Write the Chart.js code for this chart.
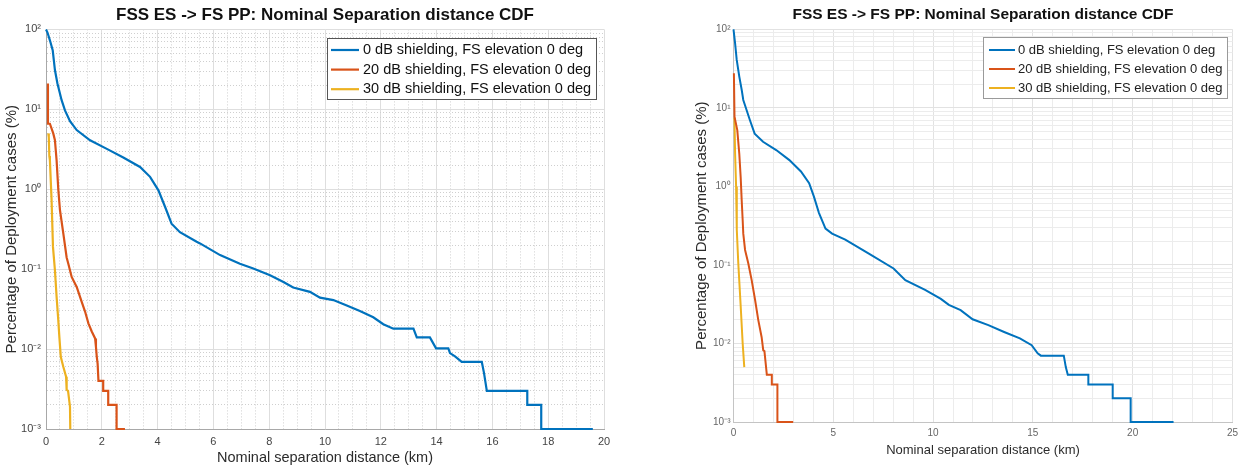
<!DOCTYPE html>
<html>
<head>
<meta charset="utf-8">
<script src="https://cdn.jsdelivr.net/npm/chart.js@4.4.1/dist/chart.umd.min.js"></script>
<style>
  body { margin: 0; background: #fff; }
  .panel { position: absolute; top: 0; height: 470px; }
  #left { left: 0; width: 620px; }
  #right { left: 620px; width: 623px; }
</style>
</head>
<body>
<div class="panel" id="left"><canvas id="leftChart" width="620" height="470"></canvas></div>
<div class="panel" id="right"><canvas id="rightChart" width="623" height="470"></canvas></div>
<script>
const chartTitle = 'FSS ES -> FS PP: Nominal Separation distance CDF';
const xTitle = 'Nominal separation distance (km)';
const yTitle = 'Percentage of Deployment cases (%)';
const seriesLabels = [
  '0 dB shielding, FS elevation 0 deg',
  '20 dB shielding, FS elevation 0 deg',
  '30 dB shielding, FS elevation 0 deg'
];
const seriesColors = ['#0072BD', '#D95319', '#EDB120'];

const yDecades = [0.001, 0.01, 0.1, 1, 10, 100];
const yDecadeLabels = ['10\u207B\u00B3', '10\u207B\u00B2', '10\u207B\u00B9', '10\u2070', '10\u00B9', '10\u00B2'];
const leftXTicks = [0, 2, 4, 6, 8, 10, 12, 14, 16, 18, 20];
const rightXTicks = [0, 5, 10, 15, 20, 25];

// left panel
const leftKm0 = [0, 0.05, 0.14, 0.24, 0.32, 0.41, 0.56, 0.68, 0.86, 1.10, 1.58, 2.18, 2.77, 3.37, 3.73, 4.03, 4.27, 4.50, 4.80, 5.40, 5.52, 6.24, 6.95, 7.43, 8.03, 8.51, 8.86, 9.46, 9.82, 10.30, 10.78, 11.25, 11.73, 12.09, 12.45, 13.17, 13.29, 13.76, 13.98, 14.42, 14.48, 14.66, 14.90, 15.62, 15.70, 15.80, 17.25, 17.25, 17.75, 17.75, 19.60];
const leftPct0 = [100, 92, 73, 55, 31, 21, 13, 9.7, 7.1, 5.5, 4.1, 3.2, 2.5, 1.9, 1.43, 0.97, 0.6, 0.37, 0.29, 0.22, 0.21, 0.15, 0.117, 0.102, 0.084, 0.069, 0.059, 0.052, 0.044, 0.041, 0.035, 0.030, 0.025, 0.0205, 0.018, 0.018, 0.014, 0.014, 0.0102, 0.0102, 0.0089, 0.0081, 0.0069, 0.0069, 0.005, 0.003, 0.003, 0.002, 0.002, 0.001, 0.001];
const leftKm20 = [0.07, 0.07, 0.14, 0.26, 0.32, 0.38, 0.44, 0.50, 0.62, 0.74, 0.80, 0.92, 1.10, 1.28, 1.40, 1.52, 1.64, 1.76, 1.79, 1.82, 1.85, 1.88, 2.05, 2.05, 2.23, 2.23, 2.53, 2.53, 2.83];
const leftPct20 = [21, 6.6, 6.6, 5.0, 4.1, 2.3, 1.0, 0.55, 0.28, 0.14, 0.117, 0.08, 0.06, 0.039, 0.0295, 0.021, 0.0166, 0.0136, 0.0107, 0.008, 0.0066, 0.004, 0.004, 0.003, 0.003, 0.002, 0.002, 0.001, 0.001];
const leftKm30 = [0.08, 0.10, 0.12, 0.14, 0.20, 0.25, 0.32, 0.38, 0.44, 0.48, 0.53, 0.62, 0.72, 0.74, 0.79, 0.86, 0.87];
const leftPct30 = [5.0, 4.5, 2.6, 2.3, 0.73, 0.19, 0.097, 0.045, 0.023, 0.014, 0.008, 0.006, 0.0045, 0.0031, 0.003, 0.0019, 0.001];

// right panel
const rightKm0 = [0, 0.08, 0.16, 0.29, 0.41, 0.49, 0.82, 1.06, 1.48, 2.14, 2.80, 3.38, 3.79, 4.03, 4.28, 4.61, 4.94, 5.60, 6.76, 8.02, 8.61, 9.60, 10.39, 10.79, 11.38, 11.98, 12.77, 13.56, 14.35, 14.94, 15.24, 15.40, 16.55, 16.65, 16.75, 17.78, 17.78, 19.00, 19.00, 19.90, 19.90, 22.05];
const rightPct0 = [100, 66, 41, 25, 17, 12.6, 7.0, 4.7, 3.7, 2.9, 2.16, 1.55, 1.1, 0.74, 0.46, 0.29, 0.25, 0.21, 0.14, 0.09, 0.064, 0.048, 0.037, 0.031, 0.0266, 0.0203, 0.0171, 0.014, 0.0116, 0.0095, 0.0075, 0.007, 0.007, 0.005, 0.004, 0.004, 0.003, 0.003, 0.002, 0.002, 0.001, 0.001];
const rightKm20 = [0.02, 0.05, 0.19, 0.29, 0.36, 0.41, 0.46, 0.49, 0.58, 0.74, 0.91, 1.08, 1.24, 1.41, 1.49, 1.55, 1.60, 1.67, 1.92, 1.92, 2.20, 2.20, 2.99];
const rightPct20 = [27.5, 7.7, 5.2, 2.6, 1.3, 0.67, 0.37, 0.25, 0.155, 0.105, 0.064, 0.036, 0.02, 0.012, 0.0082, 0.008, 0.006, 0.004, 0.004, 0.003, 0.003, 0.001, 0.001];
const rightKm30 = [0.04, 0.05, 0.08, 0.13, 0.16, 0.17, 0.24, 0.36, 0.46, 0.54];
const rightPct30 = [7.5, 6.9, 2.6, 1.0, 0.37, 0.28, 0.105, 0.03, 0.01, 0.005];

Chart.defaults.font.family = '"Liberation Sans", Arial, Helvetica, sans-serif';
Chart.defaults.animation = false;

function pts(xs, ys) {
  return xs.map((x, i) => ({ x: x, y: ys[i] }));
}

function linearTicks(majors, minorStep) {
  return (scale) => {
    const ticks = [];
    const last = majors[majors.length - 1];
    for (let v = majors[0]; v <= last + 1e-9; v += minorStep) {
      const r = Math.round(v * 100) / 100;
      ticks.push({ value: r, major: majors.includes(r) });
    }
    scale.ticks = ticks;
  };
}

function logTicks(scale) {
  const ticks = [];
  yDecades.forEach((d, k) => {
    ticks.push({ value: d, major: true });
    if (k < yDecades.length - 1) {
      for (let m = 2; m <= 9; m++) ticks.push({ value: d * m, major: false });
    }
  });
  scale.ticks = ticks;
}

// legend box drawn inside the plot, MATLAB style
const boxLegend = {
  id: 'boxLegend',
  afterDatasetsDraw(chart, args, opts) {
    const ctx = chart.ctx;
    ctx.save();
    ctx.fillStyle = '#fff';
    ctx.fillRect(opts.left, opts.top, opts.width, opts.height);
    ctx.strokeStyle = opts.borderColor;
    ctx.lineWidth = 1;
    ctx.strokeRect(opts.left + 0.5, opts.top + 0.5, opts.width, opts.height);
    ctx.font = opts.font;
    ctx.textBaseline = 'middle';
    chart.data.datasets.forEach((ds, i) => {
      const y = opts.top + opts.firstRow + i * opts.rowGap;
      const x0 = opts.left + opts.lineStart;
      ctx.strokeStyle = ds.borderColor;
      ctx.lineWidth = ds.borderWidth;
      ctx.beginPath();
      ctx.moveTo(x0, y);
      ctx.lineTo(x0 + opts.lineLength, y);
      ctx.stroke();
      ctx.fillStyle = opts.color;
      ctx.fillText(ds.label, x0 + opts.lineLength + opts.gap, y);
    });
    ctx.restore();
  }
};

function makePanel(canvasId, cfg) {
  const datasets = cfg.series.map((s, i) => ({
    label: seriesLabels[i],
    data: pts(s[0], s[1]),
    borderColor: seriesColors[i],
    borderWidth: cfg.lineWidth,
    pointRadius: 0,
    tension: 0,
    fill: false,
    clip: 6
  }));

  return new Chart(document.getElementById(canvasId), {
    type: 'line',
    data: { datasets: datasets },
    plugins: [boxLegend],
    options: {
      responsive: false,
      events: [],
      layout: { padding: cfg.padding },
      plugins: {
        legend: { display: false },
        tooltip: { enabled: false },
        title: {
          display: true,
          text: chartTitle,
          fullSize: false,
          color: '#111',
          font: { size: cfg.titleSize, weight: 'bold' },
          padding: cfg.titlePad
        },
        boxLegend: cfg.legend
      },
      scales: {
        x: {
          type: 'linear',
          min: cfg.xTicks[0],
          max: cfg.xTicks[cfg.xTicks.length - 1],
          afterBuildTicks: linearTicks(cfg.xTicks, cfg.xMinor),
          afterFit: (s) => { s.height = cfg.xHeight; },
          ticks: {
            autoSkip: false,
            maxRotation: 0,
            padding: cfg.xTickPad,
            color: cfg.tickColor,
            font: { size: cfg.tickSize },
            callback: (v, i, ticks) => ticks[i].major ? String(v) : ''
          },
          grid: {
            drawTicks: false,
            color: (c) => c.tick && c.tick.major ? cfg.majorGrid : cfg.minorGrid
          },
          border: {
            color: cfg.axisColor,
            dash: (c) => c.tick && !c.tick.major ? cfg.minorDash : []
          },
          title: {
            display: true,
            text: xTitle,
            color: '#2b2b2b',
            font: { size: cfg.xTitleSize },
            padding: { top: 0, bottom: cfg.xTitlePad }
          }
        },
        y: {
          type: 'logarithmic',
          min: yDecades[0],
          max: yDecades[yDecades.length - 1],
          afterBuildTicks: logTicks,
          afterFit: (s) => { s.width = cfg.yWidth; },
          ticks: {
            autoSkip: false,
            padding: cfg.yTickPad,
            color: cfg.tickColor,
            font: { size: cfg.yTickSize },
            callback: (v, i, ticks) => ticks[i].major ? yDecadeLabels[yDecades.indexOf(ticks[i].value)] : ''
          },
          grid: {
            drawTicks: false,
            color: (c) => c.tick && c.tick.major ? cfg.majorGrid : cfg.minorGrid
          },
          border: {
            color: cfg.axisColor,
            dash: (c) => c.tick && !c.tick.major ? cfg.minorDash : []
          },
          title: {
            display: true,
            text: yTitle,
            color: '#2b2b2b',
            font: { size: 15 },
            padding: { top: 3, bottom: 0 }
          }
        }
      }
    }
  });
}

makePanel('leftChart', {
  series: [[leftKm0, leftPct0], [leftKm20, leftPct20], [leftKm30, leftPct30]],
  lineWidth: 2.2,
  padding: { left: 0, right: 16, top: 0, bottom: 0 },
  titleSize: 17,
  titlePad: { top: 5, bottom: 4 },
  xTicks: leftXTicks,
  xMinor: 0.5,
  xHeight: 41,
  xTickPad: 6,
  tickSize: 11,
  yTickSize: 11,
  tickColor: '#444',
  xTitleSize: 14.5,
  xTitlePad: 3,
  yWidth: 46,
  yTickPad: 5,
  majorGrid: '#dedede',
  minorGrid: '#cfcfcf',
  minorDash: [1, 2],
  axisColor: '#a8a8a8',
  legend: {
    left: 327, top: 38, width: 269, height: 61,
    lineStart: 4, lineLength: 28, gap: 4,
    firstRow: 12, rowGap: 19.6,
    font: '14.5px "Liberation Sans", Arial, sans-serif',
    color: '#111', borderColor: '#555'
  }
});

makePanel('rightChart', {
  series: [[rightKm0, rightPct0], [rightKm20, rightPct20], [rightKm30, rightPct30]],
  lineWidth: 2,
  padding: { left: 70, right: 4, top: 0, bottom: 0 },
  titleSize: 15.5,
  titlePad: { top: 5, bottom: 5.7 },
  xTicks: rightXTicks,
  xMinor: 1,
  xHeight: 48,
  xTickPad: 5,
  tickSize: 10,
  yTickSize: 10,
  tickColor: '#666',
  xTitleSize: 13,
  xTitlePad: 12,
  yWidth: 43.5,
  yTickPad: 3,
  majorGrid: '#e2e2e2',
  minorGrid: '#ececec',
  minorDash: [],
  axisColor: '#c4c4c4',
  legend: {
    left: 363, top: 37, width: 244, height: 61,
    lineStart: 6, lineLength: 26, gap: 3,
    firstRow: 13, rowGap: 19,
    font: '13px "Liberation Sans", Arial, sans-serif',
    color: '#222', borderColor: '#9a9a9a'
  }
});
</script>
</body>
</html>
